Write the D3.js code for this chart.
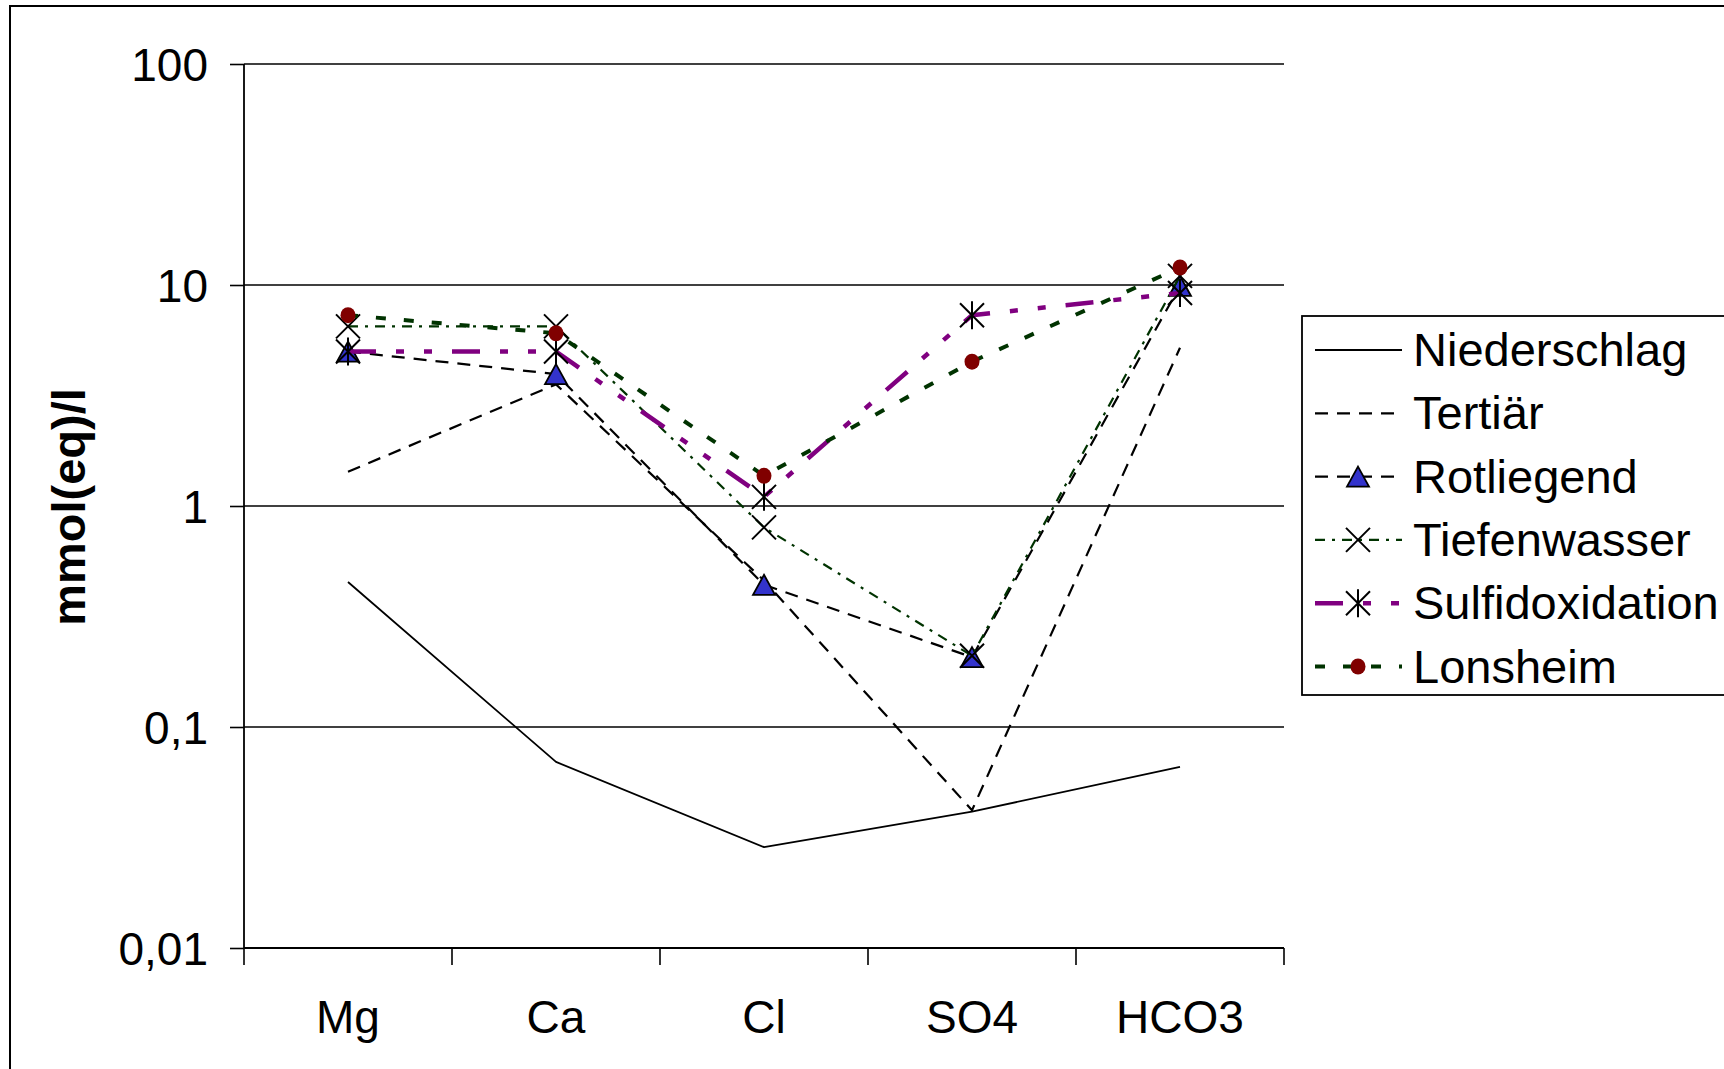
<!DOCTYPE html>
<html>
<head>
<meta charset="utf-8">
<script src="https://cdn.jsdelivr.net/npm/d3@7"></script>
<style>
  html, body { margin: 0; padding: 0; background: #ffffff; overflow: hidden; }
  svg { display: block; }
  text { font-family: "Liberation Sans", Arial, sans-serif; fill: #000; }
</style>
</head>
<body>
<script>
// Ion concentrations in mmol(eq)/l for each water type
const categories = ["Mg", "Ca", "Cl", "SO4", "HCO3"];
const yTickValues = [0.01, 0.1, 1, 10, 100];
const yTickLabels = ["0,01", "0,1", "1", "10", "100"];

const niederschlag    = [0.453, 0.0695, 0.0286, 0.0414, 0.066];
const tertiaer        = [1.43, 3.55, 0.46, 0.042, 5.2];
const rotliegend      = [5.0, 3.95, 0.44, 0.207, 9.9];
const tiefenwasser    = [6.5, 6.5, 0.80, 0.21, 11.0];
const sulfidoxidation = [5.0, 5.0, 1.10, 7.3, 9.2];
const lonsheim        = [7.3, 6.05, 1.37, 4.5, 12.0];

const seriesNames = ["Niederschlag", "Tertiär", "Rotliegend", "Tiefenwasser", "Sulfidoxidation", "Lonsheim"];

const W = 1724, H = 1069;
const plot = { left: 244, right: 1284, top: 64, bottom: 948 };

const svg = d3.select("body").append("svg")
  .attr("width", W).attr("height", H);

// Outer chart frame (runs past the right and bottom edges)
svg.append("rect")
  .attr("x", 10).attr("y", 6)
  .attr("width", W + 40).attr("height", H + 40)
  .attr("fill", "#fff").attr("stroke", "#000").attr("stroke-width", 2);

const x = d3.scaleBand().domain(categories).range([plot.left, plot.right]);
const y = d3.scaleLog().domain([0.01, 100]).range([plot.bottom, plot.top]);
const cx = c => x(c) + x.bandwidth() / 2;

// Horizontal gridlines at each decade
svg.append("g").selectAll("line")
  .data(yTickValues.slice(1))
  .join("line")
  .attr("x1", plot.left).attr("x2", plot.right)
  .attr("y1", d => y(d)).attr("y2", d => y(d))
  .attr("stroke", "#000").attr("stroke-width", 1.6);

// Y axis
const yAxis = d3.axisLeft(y)
  .tickValues(yTickValues)
  .tickFormat((d, i) => yTickLabels[i])
  .tickSize(14).tickPadding(22);
const gy = svg.append("g").attr("transform", `translate(${plot.left},0)`).call(yAxis);
gy.select(".domain").attr("stroke", "#000").attr("stroke-width", 1.8)
  .attr("d", `M0,${plot.bottom}V${plot.top}`);
gy.selectAll(".tick line").attr("stroke", "#000").attr("stroke-width", 1.6);
gy.selectAll(".tick text")
  .style("font-family", '"Liberation Sans", Arial, sans-serif')
  .style("font-size", "46px").attr("fill", "#000").attr("dy", "0.35em");

// X axis: line with ticks at category boundaries
const gx = svg.append("g");
gx.append("line")
  .attr("x1", plot.left).attr("x2", plot.right)
  .attr("y1", plot.bottom).attr("y2", plot.bottom)
  .attr("stroke", "#000").attr("stroke-width", 1.8);
const bounds = categories.map(c => x(c)).concat([x(categories[categories.length - 1]) + x.bandwidth()]);
gx.selectAll("line.tk").data(bounds).join("line").attr("class", "tk")
  .attr("x1", d => d).attr("x2", d => d)
  .attr("y1", plot.bottom).attr("y2", plot.bottom + 17)
  .attr("stroke", "#000").attr("stroke-width", 1.6);
gx.selectAll("text").data(categories).join("text")
  .attr("x", d => cx(d)).attr("y", 1033)
  .attr("text-anchor", "middle")
  .style("font-size", "46px")
  .text(d => d);

// Y axis title
svg.append("text")
  .attr("transform", "translate(85,507) rotate(-90)")
  .attr("text-anchor", "middle")
  .style("font-size", "47px").style("font-weight", "bold")
  .text("mmol(eq)/l");

// Marker shapes
function triPath() { const w = 11, h = 10; return `M0,${-h}L${w},${h}L${-w},${h}Z`; }
function xPath() { const s = 12; return `M${-s},${-s}L${s},${s}M${-s},${s}L${s},${-s}`; }
function starPath() { const s = 12; return `M${-s},${-s}L${s},${s}M${-s},${s}L${s},${-s}M0,${-s - 2}L0,${s + 2}`; }

const styles = [
  { name: seriesNames[0], values: niederschlag,    color: "#000", width: 1.8, dash: null,                  marker: null },
  { name: seriesNames[1], values: tertiaer,        color: "#000", width: 2.2, dash: "13,9",                marker: null },
  { name: seriesNames[2], values: rotliegend,      color: "#000", width: 2.2, dash: "13,9",                marker: "tri" },
  { name: seriesNames[3], values: tiefenwasser,    color: "#003300", width: 2.2, dash: "10,7,3,7",        marker: "x" },
  { name: seriesNames[4], values: sulfidoxidation, color: "#800080", width: 4.5, dash: "28,20,8,20,8,20", marker: "star" },
  { name: seriesNames[5], values: lonsheim,        color: "#003300", width: 4, dash: "10,18",             marker: "dot" }
];

function drawMarker(g, type) {
  if (type === "tri") {
    g.append("path").attr("d", triPath()).attr("fill", "#3333cc")
      .attr("stroke", "#000").attr("stroke-width", 1.8).attr("stroke-linejoin", "miter");
  } else if (type === "x") {
    g.append("path").attr("d", xPath()).attr("fill", "none")
      .attr("stroke", "#000").attr("stroke-width", 2);
  } else if (type === "star") {
    g.append("path").attr("d", starPath()).attr("fill", "none")
      .attr("stroke", "#000").attr("stroke-width", 2);
  } else if (type === "dot") {
    g.append("ellipse").attr("rx", 7.5).attr("ry", 8).attr("fill", "#800000");
  }
}

const line = d3.line().x((d, i) => cx(categories[i])).y(d => y(d));

styles.forEach(s => {
  const g = svg.append("g");
  g.append("path")
    .datum(s.values)
    .attr("d", line)
    .attr("fill", "none")
    .attr("stroke", s.color)
    .attr("stroke-width", s.width)
    .attr("stroke-dasharray", s.dash)
    .attr("stroke-linejoin", "round");
  if (s.marker) {
    s.values.forEach((v, i) => {
      const m = g.append("g").attr("transform", `translate(${cx(categories[i])},${y(v)})`);
      drawMarker(m, s.marker);
    });
  }
});

// Legend
const legend = svg.append("g");
legend.append("rect")
  .attr("x", 1302).attr("y", 316).attr("width", 500).attr("height", 379)
  .attr("fill", "#fff").attr("stroke", "#000").attr("stroke-width", 1.8);
styles.forEach((s, i) => {
  const ly = 350 + i * 63.3;
  const row = legend.append("g");
  row.append("line")
    .attr("x1", 1315).attr("x2", 1402).attr("y1", ly).attr("y2", ly)
    .attr("stroke", s.color).attr("stroke-width", s.width)
    .attr("stroke-dasharray", s.dash);
  if (s.marker) {
    const m = row.append("g").attr("transform", `translate(1358,${ly})`);
    drawMarker(m, s.marker);
  }
  row.append("text")
    .attr("x", 1413).attr("y", ly + 16)
    .style("font-size", "47px")
    .text(s.name);
});
</script>
</body>
</html>
